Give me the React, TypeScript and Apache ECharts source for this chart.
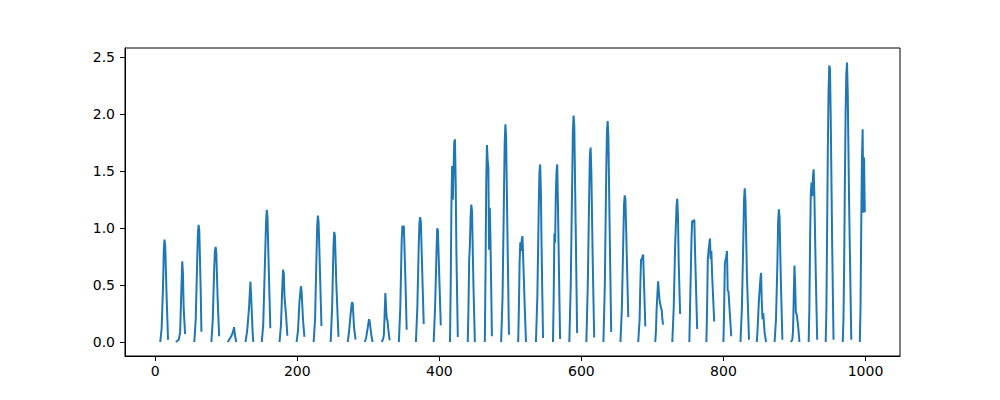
import React, { useEffect, useRef } from "react";
import * as echarts from "echarts";

// Each segment is one bump of the signal: [x, y] samples.
const segments: number[][][] = [
  [[7,0],[9,0.12],[11,0.5],[12,0.8],[13,0.9],[14,0.85],[16,0.4],[18,0.02]],
  [[29,0],[33,0.02],[35,0.08],[36,0.3],[38,0.71],[39,0.6],[40,0.3],[42,0.07]],
  [[55,0],[57,0.2],[59,0.7],[60,0.95],[61,1.03],[62,0.98],[64,0.45],[65,0.09]],
  [[79,0],[81,0.2],[83,0.65],[84,0.8],[85,0.835],[86,0.78],[88,0.35],[90,0.05]],
  [[102,0],[104,0.02],[107,0.05],[109,0.08],[111,0.13],[112,0.07],[114,0]],
  [[127,0],[129,0.08],[130,0.14],[132,0.3],[134,0.53],[135,0.4],[137,0.1],[138,0]],
  [[150,0],[152,0.15],[154,0.6],[156,1.05],[157,1.16],[158,1.1],[160,0.6],[162,0.12]],
  [[175,0],[177,0.15],[179,0.5],[180,0.636],[181,0.6],[182,0.4],[183,0.32],[184,0.25],[186,0.055]],
  [[199,0],[201,0.1],[203,0.35],[205,0.49],[206,0.45],[208,0.2],[210,0.045]],
  [[223,0],[225,0.2],[227,0.75],[228,1.02],[229,1.11],[230,1.05],[232,0.6],[234,0.14]],
  [[247,0],[249,0.3],[251,0.85],[252,0.968],[253,0.93],[255,0.5],[258,0.045]],
  [[271,0],[273,0.1],[275,0.24],[276,0.3],[277,0.35],[278,0.34],[280,0.12],[282,0.02]],
  [[295,0],[297,0.04],[299,0.12],[301,0.2],[302,0.18],[304,0.07],[306,0]],
  [[319,0],[321,0.03],[322,0.07],[323,0.25],[324,0.43],[325,0.3],[326,0.2],[327,0.19],[328,0.12],[330,0.014]],
  [[343,0],[345,0.3],[347,0.9],[348,1.02],[349,1.0],[350,1.02],[352,0.6],[354,0.108]],
  [[367,0],[369,0.3],[371,0.85],[372,1.05],[373,1.097],[374,1.05],[376,0.6],[378,0.158]],
  [[392,0],[394,0.3],[396,0.8],[397,1.0],[398,0.98],[400,0.55],[402,0.146]],
  [[415,0],[416,0.5],[417,1.2],[418,1.546],[419,1.25],[420,1.5],[421,1.76],[422,1.78],[423,1.4],[424,0.8],[426,0.044]],
  [[440,0],[441,0.3],[442,0.72],[443,0.85],[444,1.1],[445,1.208],[446,1.15],[448,0.5],[450,0]],
  [[464,0],[465,0.6],[466,1.4],[467,1.73],[468,1.6],[469,1.53],[470,0.81],[471,1.18],[472,0.9],[474,0.05]],
  [[487,0],[489,0.4],[491,1.3],[492,1.75],[493,1.913],[494,1.8],[496,0.9],[498,0.064]],
  [[511,0],[512,0.3],[513,0.7],[514,0.877],[515,0.8],[516,0.9],[517,0.93],[518,0.75],[520,0.35],[522,0]],
  [[536,0],[538,0.4],[540,1.2],[541,1.5],[542,1.56],[543,1.3],[544,0.8],[546,0.035]],
  [[560,0],[561,0.4],[562,0.953],[563,0.874],[564,1.3],[565,1.5],[566,1.56],[567,1.2],[569,0.4],[570,0.026]],
  [[583,0],[585,0.5],[587,1.4],[588,1.85],[589,1.99],[590,1.9],[592,1.0],[594,0.08]],
  [[607,0],[609,0.5],[611,1.3],[612,1.65],[613,1.708],[614,1.5],[616,0.7],[618,0.04]],
  [[631,0],[633,0.5],[635,1.5],[636,1.85],[637,1.942],[638,1.8],[640,0.9],[642,0.088]],
  [[655,0],[657,0.3],[659,0.9],[660,1.2],[661,1.288],[662,1.25],[663,1.0],[666,0.22]],
  [[680,0],[682,0.2],[683,0.5],[684,0.73],[685,0.72],[686,0.75],[687,0.768],[688,0.55],[690,0.137]],
  [[704,0],[705,0.1],[706,0.3],[708,0.534],[709,0.45],[710,0.372],[712,0.3],[713,0.284],[714,0.2],[715,0.152]],
  [[728,0],[730,0.3],[732,0.85],[734,1.2],[735,1.259],[736,1.1],[737,0.7],[739,0.246]],
  [[752,0],[753,0.3],[755,0.9],[756,1.068],[757,1.05],[758,1.06],[759,1.076],[760,0.8],[763,0.114]],
  [[776,0],[777,0.3],[778,0.73],[779,0.8],[781,0.909],[782,0.73],[783,0.8],[784,0.6],[787,0.18]],
  [[800,0],[801,0.3],[802,0.695],[804,0.75],[805,0.8],[806,0.445],[807,0.45],[809,0.25],[811,0.05]],
  [[824,0],[826,0.3],[828,0.9],[829,1.25],[830,1.35],[831,1.25],[833,0.6],[836,0.02]],
  [[847,0],[848,0.1],[850,0.372],[852,0.55],[853,0.607],[854,0.35],[855,0.2],[856,0.255],[858,0.08],[860,0]],
  [[872,0],[874,0.2],[876,0.7],[877,1.05],[878,1.165],[879,1.1],[881,0.5],[883,0.02]],
  [[895,0],[897,0.02],[898,0.1],[899,0.4],[900,0.672],[901,0.5],[902,0.255],[903,0.25],[904,0.2],[905,0.15],[906,0.08],[907,0]],
  [[920,0],[921,0.3],[922,0.9],[923,1.3],[924,1.4],[925,1.28],[926,1.45],[927,1.517],[928,1.3],[930,0.6],[932,0.02]],
  [[944,0],[945,0.3],[946,1.0],[947,1.7],[948,2.2],[949,2.43],[950,2.4],[951,2.0],[953,0.9],[955,0.02]],
  [[968,0],[969,0.2],[970,0.7],[971,1.4],[972,2.0],[973,2.35],[974,2.455],[975,2.2],[977,1.2],[980,0.02]],
  [[992,0],[993,0.3],[994,1.0],[995,1.6],[996,1.87],[997,1.136],[998,1.62],[999,1.14]],
];

const xTicks = [0, 200, 400, 600, 800, 1000];
const yTicks = [0, 0.5, 1.0, 1.5, 2.0, 2.5];

export default function App() {
  const ref = useRef<HTMLDivElement>(null);
  useEffect(() => {
    if (!ref.current) return;
    const chart = echarts.init(ref.current, null, { renderer: "svg" });
    const data: any[] = [];
    segments.forEach((seg) => {
      seg.forEach((p) => data.push([p[0], p[1]]));
      data.push([seg[seg.length - 1][0] + 0.5, null]);
    });
    const font = { fontFamily: "DejaVu Sans", fontSize: 14, color: "#000" };
    chart.setOption({
      animation: false,
      backgroundColor: "#fff",
      grid: { left: 125, right: 100, top: 48, bottom: 44, containLabel: false },
      xAxis: {
        type: "value",
        min: -42.6,
        max: 1048.6,
        splitLine: { show: false },
        axisLine: { show: true, onZero: false, lineStyle: { color: "#000", width: 1 } },
        axisTick: { show: true, length: 5, customValues: xTicks, lineStyle: { color: "#000" } },
        axisLabel: { ...font, margin: 8, customValues: xTicks, formatter: (v: number) => String(v) },
      },
      yAxis: {
        type: "value",
        min: -0.123,
        max: 2.583,
        splitLine: { show: false },
        axisLine: { show: true, onZero: false, lineStyle: { color: "#000", width: 1 } },
        axisTick: { show: true, length: 5, customValues: yTicks, lineStyle: { color: "#000" } },
        axisLabel: { ...font, margin: 10, customValues: yTicks, formatter: (v: number) => v.toFixed(1) },
      },
      graphic: [
        {
          type: "rect",
          shape: { x: 125, y: 48, width: 775, height: 308 },
          style: { fill: "none", stroke: "#000", lineWidth: 1 },
          silent: true,
          z: 10,
        },
      ],
      series: [
        {
          type: "line",
          data,
          showSymbol: false,
          connectNulls: false,
          lineStyle: { color: "#1f77b4", width: 2 },
          itemStyle: { color: "#1f77b4" },
        },
      ],
    });
    return () => chart.dispose();
  }, []);
  return (
    <div
      ref={ref}
      style={{ position: "fixed", left: 0, top: 0, width: 1000, height: 400 }}
    />
  );
}
